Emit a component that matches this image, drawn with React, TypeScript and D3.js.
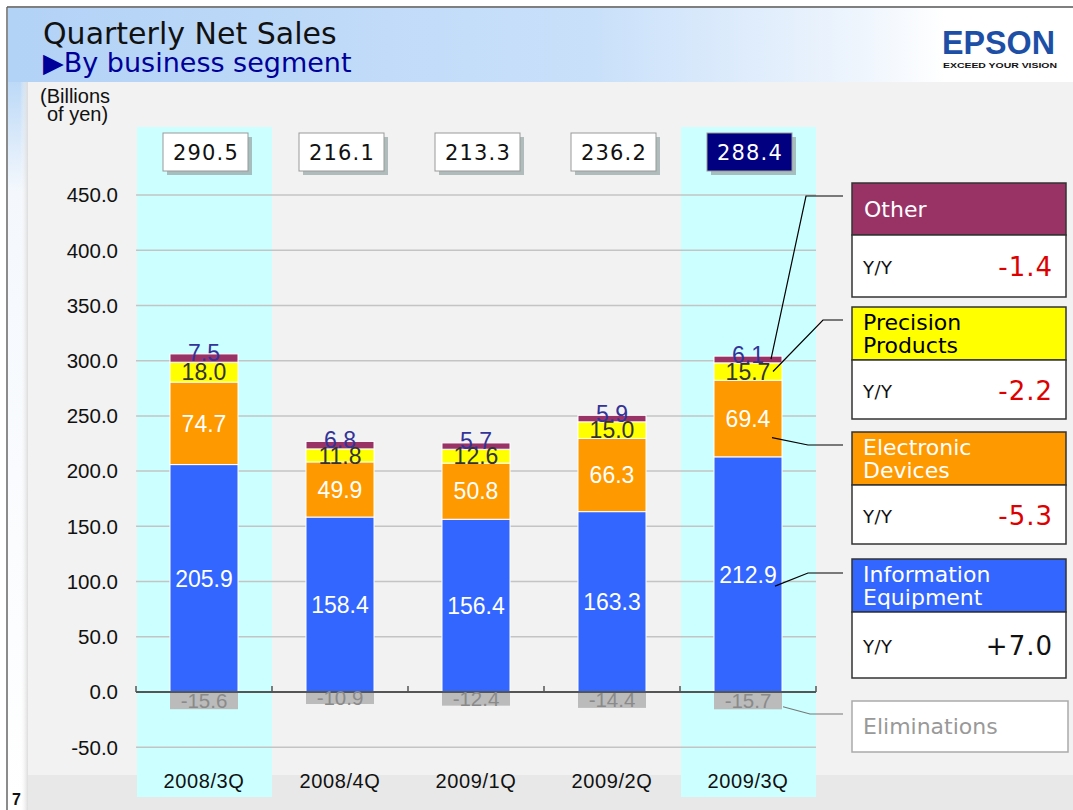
import React from "react";
import * as d3 from "d3";

// ---- data ----
const categories = ["2008/3Q", "2008/4Q", "2009/1Q", "2009/2Q", "2009/3Q"];
const infoEquipment = [205.9, 158.4, 156.4, 163.3, 212.9];
const electronicDevices = [74.7, 49.9, 50.8, 66.3, 69.4];
const precisionProducts = [18.0, 11.8, 12.6, 15.0, 15.7];
const otherSeg = [7.5, 6.8, 5.7, 5.9, 6.1];
const eliminations = [-15.6, -10.9, -12.4, -14.4, -15.7];
const totals = ["290.5", "216.1", "213.3", "236.2", "288.4"];
const highlighted = ["2008/3Q", "2009/3Q"];
const yTicks = [-50, 0, 50, 100, 150, 200, 250, 300, 350, 400, 450];
const segmentKeys = ["ie", "ed", "pp", "ot"];
const legendNames = [["Other"], ["Precision", "Products"], ["Electronic", "Devices"], ["Information", "Equipment"]];
const legendYoY = ["-1.4", "-2.2", "-5.3", "+7.0"];
const eliminationsName = "Eliminations";

// ---- styles / layout ----
const W = 1073, H = 810;
const segColors: Record<string, string> = { ie: "#3366ff", ed: "#ff9900", pp: "#ffff00", ot: "#993366" };
const labelColors: Record<string, string> = { ie: "#ffffff", ed: "#ffffff", pp: "#333333", ot: "#333399" };
const legendFill = ["#993366", "#ffff00", "#ff9900", "#3366ff"];
const legendText = ["#ffffff", "#000000", "#ffffff", "#ffffff"];
const legendLayout = [
  { top: 183, headH: 52, bodyH: 62 },
  { top: 307, headH: 53, bodyH: 59 },
  { top: 432, headH: 53, bodyH: 59 },
  { top: 559, headH: 53, bodyH: 66 },
];
const LX0 = 852, LX1 = 1066;
const chartFont = "'Liberation Sans', Arial, sans-serif";
const gothic = "'DejaVu Sans', Verdana, sans-serif";
const fmt = (v: number) => v.toFixed(1);

export default function App() {
  const x = d3.scaleBand<string>().domain(categories).range([136, 816]).padding(0);
  const y = d3.scaleLinear().domain([-50, 450]).range([747.2, 195]);
  const bw = x.bandwidth() * 0.5;

  const rows = categories.map((c, i) => ({
    cat: c,
    ie: infoEquipment[i],
    ed: electronicDevices[i],
    pp: precisionProducts[i],
    ot: otherSeg[i],
  }));
  const stack = d3.stack<any>().keys(segmentKeys)(rows);

  const lastIdx = categories.length - 1;
  const lastCat = categories[lastIdx];
  const lastCx = (x(lastCat) as number) + x.bandwidth() / 2;
  const segOf = (k: string) => stack.find((s) => s.key === k)![lastIdx];

  const otS = segOf("ot"), ppS = segOf("pp"), edS = segOf("ed"), ieS = segOf("ie");
  const connectors = [
    { pts: [[lastCx + 23, y(otS[1]) + 3], [806, 196], [843, 196]], color: "#000" },
    { pts: [[lastCx + 25, y((ppS[0] + ppS[1]) / 2)], [823, 320], [843, 320]], color: "#000" },
    { pts: [[lastCx + 24, y(edS[0] + (edS[1] - edS[0]) * 0.25)], [808, 445], [843, 445]], color: "#000" },
    { pts: [[lastCx + 27, y(ieS[1] * 0.45)], [808, 573], [843, 573]], color: "#000" },
    { pts: [[lastCx + bw / 2 + 1, y(eliminations[lastIdx] * 0.85)], [810, 714], [843, 714]], color: "#777" },
  ];
  const line = d3.line();

  return (
    <svg width={W} height={H} style={{ position: "absolute", left: 0, top: 0, display: "block" }}>
      <defs>
        <linearGradient id="hdr" x1="0" y1="0" x2="1" y2="0">
          <stop offset="0" stopColor="#b2d2f6" />
          <stop offset="0.55" stopColor="#c9e0fa" />
          <stop offset="0.8" stopColor="#eef5fd" />
          <stop offset="0.88" stopColor="#ffffff" />
        </linearGradient>
        <linearGradient id="lstrip" x1="0" y1="0" x2="0" y2="1">
          <stop offset="0" stopColor="#bcd9f7" />
          <stop offset="0.15" stopColor="#f4f8fd" />
          <stop offset="1" stopColor="#ffffff" />
        </linearGradient>
        <linearGradient id="pshadow" x1="0" y1="0" x2="1" y2="0">
          <stop offset="0" stopColor="#ffffff" stopOpacity={0} />
          <stop offset="1" stopColor="#dcdcdc" stopOpacity={1} />
        </linearGradient>
      </defs>

      {/* background */}
      <rect x={0} y={0} width={W} height={H} fill="#ffffff" />
      <rect x={8} y={8} width={W - 8} height={74} fill="url(#hdr)" />
      <rect x={8} y={82} width={20} height={H - 82} fill="url(#lstrip)" />
      <rect x={20} y={82} width={8} height={H - 82} fill="url(#pshadow)" />
      <rect x={28} y={82} width={W - 28} height={H - 82} fill="#f2f2f2" />
      <rect x={28} y={775} width={W - 28} height={H - 775} fill="#e8e8e8" />
      <line x1={7} y1={7} x2={W} y2={7} stroke="#555" strokeWidth={1.5} />
      <line x1={7} y1={7} x2={7} y2={H} stroke="#666" strokeWidth={1.5} />

      {/* title */}
      <text x={43} y={44} fontFamily={gothic} fontSize={30} fill="#111">Quarterly Net Sales</text>
      <text x={43} y={72} fontFamily={gothic} fontSize={27} fill="#000099">▶By business segment</text>

      {/* logo */}
      <text x={942} y={54} fontFamily={chartFont} fontWeight="bold" fontSize={33} fill="#1d4fa6"
        textLength={113} lengthAdjust="spacingAndGlyphs">EPSON</text>
      <text x={943} y={68} fontFamily={chartFont} fontWeight="bold" fontSize={8} fill="#111"
        textLength={114} lengthAdjust="spacingAndGlyphs">EXCEED YOUR VISION</text>

      {/* unit */}
      <text x={40} y={103} fontFamily={chartFont} fontSize={20} fill="#111">(Billions</text>
      <text x={47} y={121} fontFamily={chartFont} fontSize={20} fill="#111">of yen)</text>

      {/* highlighted columns */}
      {highlighted.map((c) => (
        <rect key={c} x={x(c)! + 1} y={127} width={x.bandwidth() - 1} height={797 - 127} fill="#ccffff" />
      ))}

      {/* gridlines */}
      {yTicks.filter((t) => t !== 0).map((t) => (
        <line key={t} x1={136} x2={816} y1={y(t)} y2={y(t)} stroke="#c4c4c4" strokeWidth={1.5} />
      ))}

      {/* y labels */}
      {yTicks.map((t) => (
        <text key={t} x={118} y={y(t)} dy="0.36em" textAnchor="end" fontFamily={chartFont} fontSize={20.5} fill="#111">
          {fmt(t)}
        </text>
      ))}

      {/* stacked bars */}
      {stack.map((s) =>
        s.map((d, i) => {
          const cx = (x(categories[i]) as number) + x.bandwidth() / 2;
          return (
            <rect key={s.key + i} x={cx - bw / 2} y={y(d[1])} width={bw} height={y(d[0]) - y(d[1])}
              fill={segColors[s.key]} stroke="#ffffff" strokeWidth={1} />
          );
        })
      )}
      {/* eliminations */}
      {eliminations.map((v, i) => {
        const cx = (x(categories[i]) as number) + x.bandwidth() / 2;
        return <rect key={"el" + i} x={cx - bw / 2} y={y(0)} width={bw} height={y(v) - y(0)} fill="#bbbbbb" />;
      })}

      {/* axis line */}
      <line x1={136} x2={816} y1={y(0)} y2={y(0)} stroke="#555" strokeWidth={2} />
      {d3.range(categories.length + 1).map((i) => {
        const xx = 136 + i * x.step();
        return <line key={"tk" + i} x1={xx} x2={xx} y1={y(0)} y2={y(0) - 6} stroke="#555" strokeWidth={1.5} />;
      })}

      {/* segment labels */}
      {stack.map((s) =>
        s.map((d, i) => {
          const cx = (x(categories[i]) as number) + x.bandwidth() / 2;
          const cy = (y(d[0]) + y(d[1])) / 2 + (s.key === "ot" ? -5 : 0);
          return (
            <text key={"lb" + s.key + i} x={cx} y={cy} dy="0.36em" textAnchor="middle"
              fontFamily={chartFont} fontSize={23} fill={labelColors[s.key]}>
              {fmt(d[1] - d[0])}
            </text>
          );
        })
      )}
      {eliminations.map((v, i) => {
        const cx = (x(categories[i]) as number) + x.bandwidth() / 2;
        return (
          <text key={"ell" + i} x={cx} y={(y(0) + y(v)) / 2} dy="0.36em" textAnchor="middle"
            fontFamily={chartFont} fontSize={20.5} fill="#8a8a8a">
            {fmt(v)}
          </text>
        );
      })}

      {/* category labels */}
      {categories.map((c) => (
        <text key={"c" + c} x={(x(c) as number) + x.bandwidth() / 2} y={788} textAnchor="middle"
          fontFamily={chartFont} fontSize={20} letterSpacing={0.6} fill="#111">{c}</text>
      ))}

      {/* totals */}
      {totals.map((t, i) => {
        const cx = (x(categories[i]) as number) + x.bandwidth() / 2 + 1;
        const dark = i === lastIdx;
        return (
          <g key={"tot" + i}>
            <rect x={cx - 42 + 4} y={133 + 4} width={85} height={38} fill="#9aa8a8" opacity={0.75} />
            <rect x={cx - 42} y={133} width={85} height={38} fill={dark ? "#000080" : "#ffffff"} stroke="#999" strokeWidth={1} />
            <text x={cx + 1} y={160} textAnchor="middle" fontFamily={gothic} fontSize={21} letterSpacing={1.2}
              fill={dark ? "#ffffff" : "#111"}>{t}</text>
          </g>
        );
      })}

      {/* connectors */}
      {connectors.map((c, i) => (
        <path key={"cn" + i} d={line(c.pts as [number, number][]) || ""} fill="none" stroke={c.color} strokeWidth={1.2} />
      ))}

      {/* legend */}
      {legendNames.map((names, i) => {
        const L = legendLayout[i];
        const bodyTop = L.top + L.headH;
        const bodyMid = bodyTop + L.bodyH / 2;
        const positive = legendYoY[i].startsWith("+");
        return (
          <g key={"lg" + i}>
            <rect x={LX0} y={L.top} width={LX1 - LX0} height={L.headH} fill={legendFill[i]} stroke="#333" strokeWidth={1.5} />
            <rect x={LX0} y={bodyTop} width={LX1 - LX0} height={L.bodyH} fill="#ffffff" stroke="#333" strokeWidth={1.5} />
            {names.length === 1 ? (
              <text x={864} y={L.top + 34} fontFamily={gothic} fontSize={22} fill={legendText[i]}>{names[0]}</text>
            ) : (
              names.map((n, j) => (
                <text key={j} x={863} y={L.top + 23 + j * 23} fontFamily={gothic} fontSize={22} fill={legendText[i]}>{n}</text>
              ))
            )}
            <text x={863} y={bodyMid + 8} fontFamily={gothic} fontSize={18} letterSpacing={0.5} fill="#111">Y/Y</text>
            <text x={1053} y={bodyMid + 10} textAnchor="end" fontFamily={gothic} fontSize={26} letterSpacing={1}
              fill={positive ? "#111" : "#dd0000"}>{legendYoY[i]}</text>
          </g>
        );
      })}
      <rect x={LX0} y={701} width={1068 - LX0} height={51} fill="#ffffff" stroke="#aaaaaa" strokeWidth={1.5} />
      <text x={863} y={734} fontFamily={gothic} fontSize={22} fill="#999999">{eliminationsName}</text>

      {/* page number */}
      <text x={12} y={805} fontFamily={chartFont} fontWeight="bold" fontSize={16} fill="#111">7</text>
    </svg>
  );
}
